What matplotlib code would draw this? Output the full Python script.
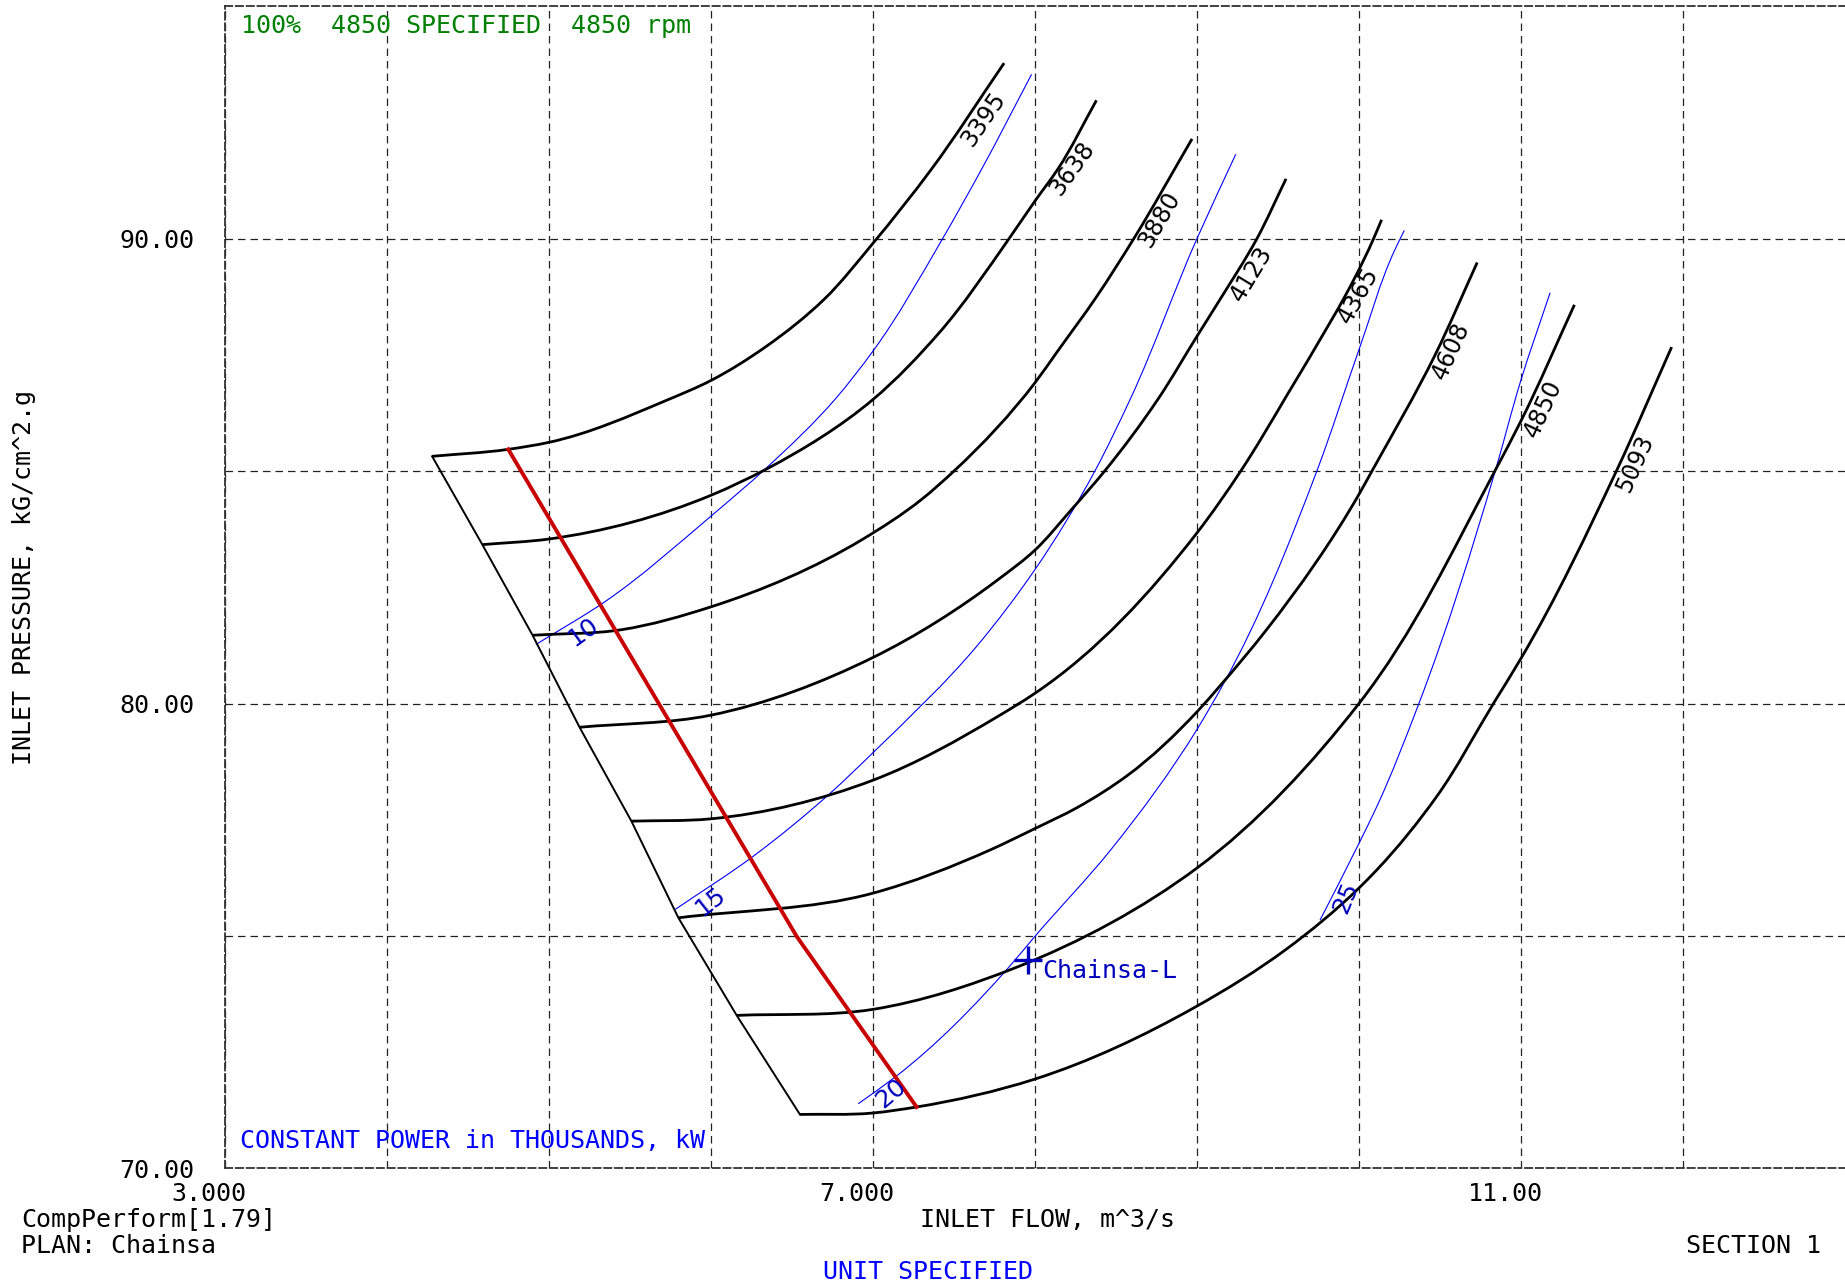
import matplotlib
matplotlib.use("Agg")
import matplotlib.pyplot as plt
import numpy as np
from matplotlib.path import Path
from matplotlib.patches import PathPatch
from matplotlib.transforms import ScaledTranslation

# speed lines, rpm (flow m^3/s, pressure kG/cm^2.g)
speeds = [3395, 3638, 3880, 4123, 4365, 4608, 4850, 5093]
speed_flow = [
    [4.28, 4.75, 5.00, 5.73, 6.00, 6.34, 6.70, 7.00, 7.36, 7.81],
    [4.59, 5.00, 6.00, 6.34, 7.00, 7.41, 7.84, 8.00, 8.14, 8.38],
    [4.90, 5.45, 6.00, 6.93, 7.30, 7.50, 8.00, 8.14, 8.38, 8.61, 8.97],
    [5.19, 6.00, 7.00, 7.77, 8.00, 8.22, 8.43, 8.76, 9.00, 9.14, 9.37, 9.55],
    [5.51, 6.00, 7.00, 7.77, 8.00, 9.00, 9.27, 9.55, 10.09, 10.14],
    [5.80, 7.00, 7.73, 8.00, 8.26, 8.57, 9.00, 9.14, 9.43, 10.00, 10.08, 10.47, 10.73],
    [6.16, 7.00, 7.89, 9.00, 10.00, 10.84, 11.00, 11.33],
    [6.55, 7.00, 7.27, 8.00, 8.99, 9.55, 10.00, 10.11, 10.48, 10.83, 11.00, 11.59, 11.93],
]
speed_pres = [
    [85.32, 85.47, 85.62, 86.53, 86.95, 87.68, 88.70, 89.90, 91.49, 93.78],
    [83.42, 83.54, 84.48, 85.04, 86.54, 87.98, 90.00, 90.81, 91.49, 92.98],
    [81.47, 81.59, 82.08, 83.52, 84.39, 85.00, 86.90, 87.58, 88.75, 90.00, 92.15],
    [79.49, 79.75, 80.99, 82.66, 83.30, 84.15, 85.00, 86.55, 87.90, 88.68, 90.00, 91.29],
    [77.47, 77.52, 78.35, 79.72, 80.22, 83.67, 85.00, 86.60, 90.00, 90.41],
    [75.39, 75.92, 76.86, 77.31, 77.76, 78.45, 79.82, 80.37, 81.59, 84.50, 85.00, 87.50, 89.49],
    [73.29, 73.42, 74.33, 76.46, 80.00, 85.01, 86.08, 88.58],
    [71.16, 71.19, 71.32, 71.92, 73.47, 74.71, 76.03, 76.42, 78.00, 80.00, 80.97, 85.01, 87.67],
]
speed_lbl_flow = [7.685, 8.228, 8.771, 9.336, 9.995, 10.567, 11.140, 11.703]
speed_lbl_pres = [92.58, 91.52, 90.42, 89.24, 88.78, 87.59, 86.35, 85.16]

# constant power lines, thousands of kW
powers = ["10", "15", "20", "25"]
power_flow = [
    [4.92, 5.35, 6.00, 6.34, 6.77, 7.00, 7.43, 7.67, 7.98],
    [5.78, 6.26, 6.74, 7.00, 7.65, 8.00, 8.37, 8.59, 9.00, 9.24],
    [6.91, 7.14, 7.84, 8.00, 8.47, 9.00, 9.16, 9.74, 10.00, 10.22, 10.28],
    [9.76, 10.00, 10.11, 10.37, 10.84, 11.00, 11.18],
]
power_pres = [
    [81.27, 82.20, 84.03, 85.06, 86.56, 87.58, 90.00, 91.49, 93.54],
    [75.57, 76.71, 78.08, 78.94, 81.27, 82.88, 85.00, 86.56, 90.00, 91.82],
    [71.39, 71.97, 74.33, 74.99, 76.86, 79.44, 80.40, 85.00, 87.61, 89.75, 90.18],
    [75.34, 76.99, 77.78, 80.00, 84.99, 86.96, 88.84],
]
power_lbl_flow = [5.209, 5.997, 7.114, 9.918]
power_lbl_pres = [81.53, 75.74, 71.61, 75.83]

# red control line
ctrl_flow = [4.75, 6.53, 7.27]
ctrl_pres = [85.47, 74.99, 71.32]

# operating point
op_flow = 7.96
op_pres = 74.48
op_name = "Chainsa-L"

MONO = "DejaVu Sans Mono"
SANS = "DejaVu Sans"
DKBLUE = "#0000bc"

fig = plt.figure(figsize=(18.45, 12.86), dpi=100)
ax = fig.add_axes([0.1218, 0.0915, 0.8782, 0.9035])
ax.set_xlim(3, 13)
ax.set_ylim(70, 95)

# grid
ax.set_xticks([3, 7, 11])
ax.set_xticklabels(["3.000", "7.000", "11.00"])
ax.set_xticks(np.arange(4, 13), minor=True)
ax.set_yticks([70, 80, 90])
ax.set_yticklabels(["70.00", "80.00", "90.00"])
ax.set_yticks([75, 85], minor=True)
ax.grid(True, which="both", color="#222222", linestyle=(0, (6, 4)), linewidth=0.9)
ax.tick_params(which="both", length=0)
ax.tick_params(axis="x", pad=10)
ax.tick_params(axis="y", pad=22)
for lab in ax.get_xticklabels() + ax.get_yticklabels():
    lab.set_fontfamily(MONO)
    lab.set_fontsize(18)
off = ScaledTranslation(-16 / 100, 0, fig.dpi_scale_trans)
for lab in ax.get_xticklabels():
    lab.set_transform(lab.get_transform() + off)

for side in ["left", "top", "bottom"]:
    ax.spines[side].set_linestyle((0, (4, 2)))
    ax.spines[side].set_color("#333333")
    ax.spines[side].set_linewidth(1.3)
ax.spines["right"].set_visible(False)


def smooth(xs, ys):
    # cubic bezier path through the read points (bessel tangents, chord length)
    p = np.column_stack([xs, ys]).astype(float)
    d = ax.transData.transform(p)
    h = np.hypot(*np.diff(d, axis=0).T)
    s = np.diff(p, axis=0) / h[:, None]
    n = len(p)
    m = np.zeros_like(p)
    m[0] = s[0]
    m[-1] = s[-1]
    for i in range(1, n - 1):
        m[i] = (h[i] * s[i - 1] + h[i - 1] * s[i]) / (h[i - 1] + h[i])
    verts = [p[0]]
    codes = [Path.MOVETO]
    for i in range(n - 1):
        verts += [p[i] + m[i] * h[i] / 3, p[i + 1] - m[i + 1] * h[i] / 3, p[i + 1]]
        codes += [Path.CURVE4] * 3
    return Path(verts, codes)


def draw(xs, ys, **kw):
    ax.add_patch(PathPatch(smooth(xs, ys), fill=False, **kw))


def seg_angle(xs, ys, px, py):
    pts = ax.transData.transform(np.column_stack([xs, ys]))
    p = ax.transData.transform((px, py))
    mids = (pts[1:] + pts[:-1]) / 2
    i = np.argmin(np.hypot(mids[:, 0] - p[0], mids[:, 1] - p[1]))
    d = pts[i + 1] - pts[i]
    return np.degrees(np.arctan2(d[1], d[0]))


# speed lines
for fl, pr in zip(speed_flow, speed_pres):
    draw(fl, pr, ec="black", lw=2.0, capstyle="butt", zorder=3)
# surge line through the first point of each speed line
ax.plot([f[0] for f in speed_flow], [p[0] for p in speed_pres],
        color="black", lw=1.4, zorder=3)

for sp, fl, pr, lx, ly in zip(speeds, speed_flow, speed_pres,
                              speed_lbl_flow, speed_lbl_pres):
    ang = seg_angle(fl, pr, lx, ly)
    ax.text(lx, ly, str(sp), rotation=ang, rotation_mode="anchor",
            ha="center", va="center", fontsize=17, family=SANS,
            color="black", zorder=5)

# constant power lines
for fl, pr in zip(power_flow, power_pres):
    draw(fl, pr, ec="#0000ff", lw=0.8, zorder=2)
for pw, fl, pr, lx, ly in zip(powers, power_flow, power_pres,
                              power_lbl_flow, power_lbl_pres):
    ang = seg_angle(fl, pr, lx, ly)
    ax.text(lx, ly, pw, rotation=ang + 4, rotation_mode="anchor",
            ha="center", va="center", fontsize=18, family=SANS,
            color=DKBLUE, zorder=5)

# control line
ax.plot(ctrl_flow, ctrl_pres, color="#c80000", lw=2.8, zorder=4)

# operating point
ax.plot([op_flow], [op_pres], marker="+", ms=20, mew=2.4, color=DKBLUE, zorder=6)
ax.annotate(op_name, (op_flow, op_pres), xytext=(10, -8), textcoords="offset points",
            ha="left", va="center", fontsize=18, family=MONO, color=DKBLUE)

# texts
ax.text(0.0102, 0.983, "100%  4850 SPECIFIED  4850 rpm", transform=ax.transAxes,
        ha="left", va="center", fontsize=18, family=MONO, color="#008000")
ax.text(0.0095, 0.0235, "CONSTANT POWER in THOUSANDS, kW", transform=ax.transAxes,
        ha="left", va="center", fontsize=18, family=MONO, color="#0000ff")

fig.text(0.5676, 0.0512, "INLET FLOW, m^3/s", ha="center", va="center",
         fontsize=18, family=MONO)
fig.text(0.0128, 0.551, "INLET PRESSURE, kG/cm^2.g", ha="center", va="center",
         rotation=90, fontsize=18, family=MONO)
fig.text(0.0115, 0.0512, "CompPerform[1.79]", ha="left", va="center",
         fontsize=18, family=MONO)
fig.text(0.0115, 0.0311, "PLAN: Chainsa", ha="left", va="center",
         fontsize=18, family=MONO)
fig.text(0.9872, 0.0311, "SECTION 1", ha="right", va="center",
         fontsize=18, family=MONO)
fig.text(0.5032, 0.011, "UNIT SPECIFIED", ha="center", va="center",
         fontsize=18, family=MONO, color="#0000ff")

fig.savefig("out.png", dpi=100)
